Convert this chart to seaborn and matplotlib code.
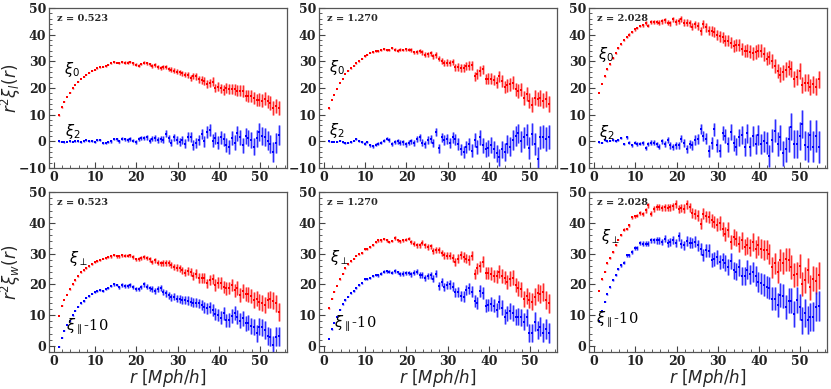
import numpy as np
import pandas as pd
import matplotlib
matplotlib.use("Agg")
import matplotlib.pyplot as plt
import seaborn as sns
from matplotlib.ticker import MultipleLocator

# ---------------- data ----------------
r = [1.2, 1.87, 2.53, 3.2, 3.87, 4.53, 5.2, 5.87, 6.53, 7.2,
     7.87, 8.53, 9.2, 9.87, 10.53, 11.2, 11.87, 12.53, 13.2, 13.87,
     14.53, 15.2, 15.87, 16.53, 17.2, 17.87, 18.53, 19.2, 19.87, 20.53,
     21.2, 21.87, 22.53, 23.2, 23.87, 24.53, 25.2, 25.87, 26.53, 27.2,
     27.87, 28.53, 29.2, 29.87, 30.53, 31.2, 31.87, 32.53, 33.2, 33.87,
     34.53, 35.2, 35.87, 36.53, 37.2, 37.87, 38.53, 39.2, 39.87, 40.53,
     41.2, 41.87, 42.53, 43.2, 43.87, 44.53, 45.2, 45.87, 46.53, 47.2,
     47.87, 48.53, 49.2, 49.87, 50.53, 51.2, 51.87, 52.53, 53.2, 53.87,
     54.53]

redshifts = ["0.523", "1.270", "2.028"]

# top row: monopole xi0 and quadrupole xi2
xi0_z1 = [9.8, 12.8, 14.9, 16.6, 18.3, 19.9, 21.1, 22.4, 23.4, 24.3,
          25.1, 25.8, 26.5, 26.9, 27.4, 27.8, 28.0, 28.3, 28.8, 29.3,
          29.9, 29.6, 29.3, 29.8, 29.6, 29.6, 29.7, 29.3, 28.8, 28.4,
          29.0, 29.5, 29.4, 28.9, 28.3, 28.6, 28.0, 27.5, 27.8, 27.9,
          27.3, 26.9, 26.5, 26.1, 25.9, 25.6, 25.1, 24.8, 23.9, 24.6,
          24.4, 23.3, 23.0, 22.6, 21.4, 21.9, 22.4, 20.1, 20.6, 20.0,
          19.3, 20.0, 19.7, 19.6, 19.5, 19.1, 19.0, 18.9, 17.1, 17.0,
          17.0, 16.4, 15.6, 15.6, 15.3, 16.0, 15.0, 14.3, 12.6, 13.4, 12.5]
xi0_z1_err = [0.1, 0.1, 0.1, 0.1, 0.1, 0.1, 0.1, 0.1, 0.15, 0.15,
              0.15, 0.2, 0.2, 0.2, 0.2, 0.25, 0.25, 0.25, 0.3, 0.3,
              0.3, 0.3, 0.35, 0.35, 0.4, 0.4, 0.4, 0.45, 0.45, 0.5,
              0.5, 0.55, 0.55, 0.6, 0.6, 0.65, 0.7, 0.7, 0.75, 0.8,
              0.8, 0.85, 0.9, 0.9, 1.0, 1.0, 1.1, 1.1, 1.2, 1.2,
              1.3, 1.3, 1.4, 1.4, 1.5, 1.5, 1.6, 1.6, 1.7, 1.7,
              1.8, 1.8, 1.9, 1.9, 2.0, 2.0, 2.0, 2.1, 2.1, 2.2,
              2.2, 2.3, 2.3, 2.4, 2.4, 2.5, 2.5, 2.6, 2.6, 2.7, 2.7]
xi2_z1 = [0.0, -0.2, -0.4, -0.2, 0.0, -0.1, 0.0, 0.1, -0.3, 0.0,
          0.4, 0.2, 0.2, -0.2, 0.6, 0.5, -0.6, -0.6, -0.3, 0.0,
          0.9, 0.8, 0.1, 1.0, 0.8, 0.6, 0.9, 0.3, -0.2, 0.8,
          1.2, 1.3, 1.5, 0.3, 1.0, 1.3, 0.6, 0.9, 0.7, 2.8,
          1.2, -0.5, 1.5, 0.4, -0.3, 0.5, -0.9, 1.8, 1.7, -1.5,
          -0.5, 0.5, 2.8, 0.0, 3.5, 4.3, 0.3, 1.2, -0.5, 1.5,
          0.8, -1.5, -2.0, 1.3, -0.5, 3.0, 1.5, -1.5, 2.0, 1.2,
          0.5, -2.0, 1.2, 3.5, 2.0, 1.5, 0.3, -1.0, -4.0, -0.5, 2.5]
xi2_z1_err = [0.15, 0.15, 0.15, 0.15, 0.2, 0.2, 0.2, 0.2, 0.25, 0.25,
              0.25, 0.3, 0.3, 0.3, 0.35, 0.35, 0.4, 0.4, 0.45, 0.45,
              0.5, 0.5, 0.55, 0.6, 0.6, 0.65, 0.7, 0.7, 0.75, 0.8,
              0.85, 0.9, 0.9, 1.0, 1.0, 1.1, 1.1, 1.2, 1.2, 1.3,
              1.3, 1.4, 1.4, 1.5, 1.5, 1.6, 1.7, 1.7, 1.8, 1.9,
              1.9, 2.0, 2.0, 2.1, 2.2, 2.2, 2.3, 2.3, 2.4, 2.5,
              2.5, 2.6, 2.6, 2.7, 2.8, 2.8, 2.9, 2.9, 3.0, 3.1,
              3.1, 3.2, 3.2, 3.3, 3.4, 3.4, 3.5, 3.5, 3.6, 3.7, 3.7]

xi0_z2 = [12.4, 15.5, 17.5, 19.6, 21.9, 23.4, 25.3, 26.5, 27.4, 28.4,
          29.3, 30.1, 31.1, 32.0, 32.6, 33.3, 33.6, 33.9, 34.0, 34.4,
          34.6, 34.4, 34.3, 35.0, 34.4, 34.0, 34.4, 34.3, 34.6, 34.4,
          34.3, 33.4, 33.6, 34.0, 33.4, 32.6, 32.7, 33.0, 31.9, 32.4,
          31.1, 30.3, 29.4, 29.6, 29.5, 29.8, 27.8, 28.0, 27.6, 27.4,
          28.4, 28.4, 28.5, 24.4, 25.3, 26.5, 27.0, 23.4, 23.6, 23.6,
          23.1, 22.1, 24.4, 22.8, 20.3, 21.0, 21.4, 22.1, 19.6, 18.9,
          19.4, 16.4, 17.8, 15.3, 13.8, 16.4, 15.9, 16.3, 15.3, 15.9, 13.9]
xi0_z2_err = [0.1, 0.1, 0.1, 0.1, 0.1, 0.15, 0.15, 0.15, 0.15, 0.2,
              0.2, 0.2, 0.25, 0.25, 0.25, 0.3, 0.3, 0.3, 0.35, 0.35,
              0.4, 0.4, 0.45, 0.45, 0.5, 0.5, 0.55, 0.55, 0.6, 0.6,
              0.65, 0.7, 0.7, 0.75, 0.8, 0.8, 0.85, 0.9, 0.9, 1.0,
              1.0, 1.1, 1.1, 1.2, 1.2, 1.3, 1.3, 1.4, 1.4, 1.5,
              1.5, 1.6, 1.6, 1.7, 1.7, 1.8, 1.8, 1.9, 1.9, 2.0,
              2.0, 2.1, 2.1, 2.2, 2.2, 2.3, 2.3, 2.4, 2.4, 2.5,
              2.5, 2.6, 2.6, 2.7, 2.7, 2.8, 2.8, 2.9, 2.9, 3.0, 3.0]
xi2_z2 = [0.0, -0.1, -0.2, -0.1, 0.2, -0.3, -0.6, -0.5, -0.3, 0.3,
          1.0, 0.2, -0.2, -0.8, -0.2, -1.5, -1.8, -1.2, -0.8, -0.5,
          0.2, 1.0, 0.5, -1.0, -0.3, 0.0, -0.5, -0.4, -1.0, -0.5,
          0.0, -0.5, 1.0, 1.5, -0.5, -1.0, 0.5, 0.8, -0.5, 3.5,
          -2.5, 1.5, 0.5, 1.0, -0.5, 1.5, 0.8, -1.0, -3.0, -4.0,
          -2.0, -1.0, -3.5, 0.5, -2.0, 1.5, -1.5, -3.0, -2.5, -1.5,
          -3.0, -4.5, -6.0, -3.0, -4.0, -1.0, -2.0, 0.5, 2.0, 3.0,
          0.0, 1.5, 2.5, -2.5, 2.8, -1.0, -6.5, 1.5, 1.8, 1.0, 1.5]
xi2_z2_err = [0.15, 0.15, 0.15, 0.2, 0.2, 0.2, 0.25, 0.25, 0.3, 0.3,
              0.3, 0.35, 0.35, 0.4, 0.4, 0.45, 0.5, 0.5, 0.55, 0.6,
              0.6, 0.65, 0.7, 0.7, 0.75, 0.8, 0.85, 0.9, 0.95, 1.0,
              1.0, 1.1, 1.1, 1.2, 1.3, 1.3, 1.4, 1.5, 1.5, 1.6,
              1.7, 1.7, 1.8, 1.9, 1.9, 2.0, 2.1, 2.1, 2.2, 2.3,
              2.3, 2.4, 2.5, 2.6, 2.6, 2.7, 2.8, 2.8, 2.9, 3.0,
              3.1, 3.1, 3.2, 3.3, 3.4, 3.4, 3.5, 3.6, 3.7, 3.7,
              3.8, 3.9, 4.0, 4.0, 4.1, 4.2, 4.3, 4.3, 4.4, 4.5, 4.5]

xi0_z3 = [18.1, 21.6, 24.4, 27.1, 29.0, 31.3, 33.1, 35.0, 36.4, 37.9,
          39.1, 40.1, 41.1, 42.0, 42.5, 43.3, 43.6, 44.4, 43.4, 44.8,
          44.9, 44.9, 44.6, 45.0, 45.5, 44.6, 44.4, 45.8, 44.8, 45.1,
          45.9, 44.6, 44.6, 44.4, 43.1, 43.9, 43.4, 41.5, 44.0, 42.8,
          41.5, 41.4, 40.9, 39.9, 39.4, 39.0, 37.8, 37.8, 37.1, 35.9,
          36.3, 36.1, 34.6, 34.0, 34.0, 33.6, 33.1, 33.6, 34.0, 34.0,
          32.8, 31.1, 31.5, 30.1, 28.4, 26.5, 25.1, 25.9, 26.9, 27.8,
          27.1, 23.4, 24.3, 26.5, 21.1, 22.1, 22.1, 20.5, 21.5, 20.6, 23.4]
xi0_z3_err = [0.1, 0.1, 0.15, 0.15, 0.2, 0.2, 0.25, 0.25, 0.3, 0.3,
              0.35, 0.4, 0.4, 0.45, 0.5, 0.5, 0.55, 0.6, 0.65, 0.7,
              0.7, 0.75, 0.8, 0.85, 0.9, 0.9, 0.95, 1.0, 1.0, 1.1,
              1.1, 1.2, 1.2, 1.3, 1.3, 1.4, 1.5, 1.5, 1.6, 1.7,
              1.7, 1.8, 1.9, 1.9, 2.0, 2.0, 2.1, 2.1, 2.2, 2.2,
              2.2, 2.3, 2.3, 2.3, 2.4, 2.4, 2.4, 2.5, 2.5, 2.5,
              2.6, 2.6, 2.6, 2.7, 2.7, 2.7, 2.8, 2.8, 2.8, 2.9,
              2.9, 2.9, 3.0, 3.0, 3.0, 3.1, 3.1, 3.1, 3.2, 3.2, 3.2]
xi2_z3 = [-0.3, -0.5, 0.5, 0.0, 0.3, 0.5, 0.2, 0.5, 1.2, -1.0,
          1.5, -0.5, -1.5, -0.5, -1.0, -0.8, -0.5, -2.5, -1.0, -0.5,
          -0.5, -1.0, -2.0, 0.0, -1.0, 0.5, -1.5, -2.0, -1.5, -1.5,
          1.0, -0.5, -3.0, -1.0, -1.5, 0.5, 1.0, 4.5, 2.0, 1.0,
          -3.5, -0.5, 4.5, -1.5, -3.5, 3.0, 2.0, -1.0, 3.5, -0.5,
          -2.0, 1.5, 2.5, -2.0, 3.0, -2.0, 2.0, -1.0, 2.5, -1.0,
          0.0, -0.5, -5.5, 0.5, 4.0, -1.0, 1.5, -4.5, -3.0, 1.0,
          5.5, -1.0, -1.0, 2.0, 6.5, -1.5, -2.0, 2.5, -2.0, 2.0, -2.0]
xi2_z3_err = [0.2, 0.2, 0.25, 0.25, 0.3, 0.3, 0.35, 0.35, 0.4, 0.45,
              0.5, 0.5, 0.55, 0.6, 0.65, 0.7, 0.75, 0.8, 0.85, 0.9,
              0.9, 0.95, 1.0, 1.05, 1.1, 1.15, 1.2, 1.2, 1.3, 1.35,
              1.4, 1.5, 1.5, 1.6, 1.7, 1.8, 1.8, 1.9, 2.0, 2.1,
              2.2, 2.3, 2.4, 2.4, 2.5, 2.6, 2.7, 2.8, 2.9, 3.0,
              3.1, 3.2, 3.3, 3.4, 3.5, 3.5, 3.6, 3.7, 3.8, 3.9,
              4.0, 4.1, 4.2, 4.3, 4.4, 4.5, 4.6, 4.7, 4.8, 4.9,
              5.0, 5.1, 5.2, 5.3, 5.4, 5.5, 5.6, 5.7, 5.8, 5.9, 6.0]

# bottom row: xi_perp and xi_parallel - 10
xiperp_z1 = [9.7, 13.1, 14.9, 16.6, 18.4, 20.0, 21.4, 22.7, 23.9, 24.6,
             25.3, 25.9, 26.6, 27.2, 27.6, 27.9, 28.4, 28.6, 28.9, 29.1,
             29.5, 29.1, 29.1, 29.5, 29.3, 29.3, 29.5, 28.9, 28.2, 28.2,
             28.6, 28.9, 28.6, 28.1, 27.3, 27.9, 27.0, 26.8, 27.0, 27.0,
             27.0, 26.2, 25.7, 25.4, 25.2, 24.6, 23.8, 24.3, 24.0, 22.7,
             23.5, 22.1, 22.1, 22.0, 20.3, 21.4, 21.7, 19.8, 20.6, 20.5,
             19.2, 18.7, 18.9, 19.8, 18.1, 18.9, 16.5, 17.9, 16.8, 16.8,
             16.2, 14.9, 15.4, 14.4, 14.0, 13.3, 14.9, 15.1, 14.7, 13.8, 11.1]
xiperp_z1_err = [0.1, 0.1, 0.1, 0.1, 0.1, 0.1, 0.15, 0.15, 0.15, 0.15,
                 0.2, 0.2, 0.2, 0.25, 0.25, 0.25, 0.3, 0.3, 0.3, 0.35,
                 0.35, 0.4, 0.4, 0.45, 0.45, 0.5, 0.5, 0.55, 0.55, 0.6,
                 0.6, 0.65, 0.7, 0.7, 0.75, 0.8, 0.8, 0.85, 0.9, 0.9,
                 0.95, 1.0, 1.0, 1.1, 1.1, 1.2, 1.2, 1.3, 1.3, 1.4,
                 1.4, 1.5, 1.5, 1.6, 1.6, 1.7, 1.7, 1.8, 1.8, 1.9,
                 1.9, 2.0, 2.0, 2.1, 2.1, 2.2, 2.2, 2.3, 2.3, 2.4,
                 2.4, 2.5, 2.5, 2.6, 2.6, 2.7, 2.7, 2.8, 2.8, 2.9, 2.9]
xipar_z1 = [-0.2, 2.7, 5.0, 6.8, 8.2, 10.0, 11.4, 12.7, 13.8, 14.6,
            15.7, 16.3, 17.0, 17.6, 17.9, 18.1, 17.9, 18.5, 18.9, 19.5,
            20.0, 19.8, 19.0, 19.8, 19.5, 19.5, 19.8, 19.2, 18.5, 18.5,
            19.2, 20.0, 19.2, 18.7, 18.5, 17.9, 18.4, 18.7, 17.6, 17.1,
            16.5, 15.8, 16.0, 15.4, 15.2, 14.9, 14.9, 14.7, 14.4, 14.0,
            14.1, 13.8, 13.3, 12.5, 12.2, 12.5, 11.7, 10.4, 10.0, 9.2,
            10.6, 8.4, 8.4, 9.8, 10.6, 9.3, 8.2, 9.0, 7.3, 7.6,
            6.5, 6.3, 4.1, 6.3, 6.0, 5.2, 3.2, 3.0, 0.3, 3.0, 3.2]
xipar_z1_err = [0.1, 0.1, 0.1, 0.1, 0.15, 0.15, 0.15, 0.15, 0.2, 0.2,
                0.2, 0.25, 0.25, 0.25, 0.3, 0.3, 0.35, 0.35, 0.4, 0.4,
                0.45, 0.45, 0.5, 0.5, 0.55, 0.55, 0.6, 0.65, 0.65, 0.7,
                0.7, 0.75, 0.8, 0.8, 0.85, 0.9, 0.95, 0.95, 1.0, 1.05,
                1.1, 1.1, 1.2, 1.2, 1.3, 1.3, 1.4, 1.4, 1.5, 1.5,
                1.6, 1.6, 1.7, 1.7, 1.8, 1.8, 1.9, 1.9, 2.0, 2.0,
                2.1, 2.1, 2.2, 2.2, 2.3, 2.3, 2.4, 2.4, 2.5, 2.5,
                2.6, 2.6, 2.7, 2.7, 2.8, 2.8, 2.9, 2.9, 3.0, 3.0, 3.1]

xiperp_z2 = [12.2, 15.4, 17.6, 19.5, 21.6, 23.5, 25.2, 26.6, 27.5, 28.4,
             29.3, 29.8, 30.2, 31.4, 31.6, 32.2, 32.9, 33.8, 34.3, 34.3,
             34.7, 34.3, 33.8, 34.1, 35.1, 34.3, 34.0, 34.3, 34.6, 34.9,
             33.8, 33.3, 32.7, 32.7, 33.5, 32.7, 32.2, 32.4, 30.8, 31.1,
             31.3, 30.2, 29.5, 29.3, 29.3, 28.6, 27.3, 28.4, 29.5, 28.9,
             28.4, 27.9, 29.4, 23.3, 25.2, 25.9, 27.3, 23.8, 23.8, 23.5,
             22.7, 22.7, 24.1, 22.7, 22.2, 20.8, 21.9, 22.2, 19.8, 18.7,
             18.4, 15.4, 16.2, 14.9, 14.4, 16.0, 17.3, 16.8, 17.6, 14.9, 13.8]
xiperp_z2_err = [0.1, 0.1, 0.1, 0.1, 0.1, 0.15, 0.15, 0.15, 0.15, 0.2,
                 0.2, 0.2, 0.25, 0.25, 0.25, 0.3, 0.3, 0.3, 0.35, 0.35,
                 0.4, 0.4, 0.45, 0.45, 0.5, 0.5, 0.55, 0.55, 0.6, 0.6,
                 0.65, 0.7, 0.7, 0.75, 0.8, 0.8, 0.85, 0.9, 0.9, 1.0,
                 1.0, 1.1, 1.1, 1.2, 1.2, 1.3, 1.3, 1.4, 1.4, 1.5,
                 1.5, 1.6, 1.6, 1.7, 1.7, 1.8, 1.8, 1.9, 1.9, 2.0,
                 2.0, 2.1, 2.1, 2.2, 2.2, 2.3, 2.3, 2.4, 2.4, 2.5,
                 2.5, 2.6, 2.6, 2.7, 2.7, 2.8, 2.8, 2.9, 2.9, 3.0, 3.0]
xipar_z2 = [2.2, 5.4, 7.6, 9.5, 11.7, 13.5, 14.9, 16.0, 17.1, 17.8,
            18.9, 19.8, 20.3, 21.6, 21.7, 22.2, 22.8, 23.0, 23.0, 23.5,
            24.1, 24.3, 24.1, 23.8, 24.4, 23.9, 23.5, 23.5, 23.8, 23.7,
            23.3, 23.8, 24.1, 23.0, 23.0, 22.2, 22.6, 22.9, 21.9, 23.5,
            19.5, 20.8, 19.2, 19.8, 20.0, 19.2, 17.4, 17.6, 16.2, 16.0,
            18.1, 18.7, 17.6, 14.6, 14.0, 17.9, 17.1, 13.0, 13.3, 13.6,
            13.1, 11.7, 14.4, 12.4, 9.5, 10.6, 11.4, 10.6, 9.5, 9.5,
            9.3, 7.9, 9.3, 4.3, 4.3, 7.9, 5.2, 6.3, 4.3, 5.4, 4.1]
xipar_z2_err = [0.1, 0.1, 0.1, 0.15, 0.15, 0.15, 0.2, 0.2, 0.2, 0.25,
                0.25, 0.25, 0.3, 0.3, 0.35, 0.35, 0.4, 0.4, 0.45, 0.45,
                0.5, 0.5, 0.55, 0.55, 0.6, 0.6, 0.65, 0.7, 0.7, 0.75,
                0.8, 0.8, 0.85, 0.9, 0.9, 1.0, 1.0, 1.1, 1.1, 1.2,
                1.2, 1.3, 1.3, 1.4, 1.4, 1.5, 1.5, 1.6, 1.6, 1.7,
                1.7, 1.8, 1.8, 1.9, 1.9, 2.0, 2.0, 2.1, 2.1, 2.2,
                2.2, 2.3, 2.3, 2.4, 2.4, 2.5, 2.5, 2.6, 2.6, 2.7,
                2.7, 2.8, 2.8, 2.9, 2.9, 3.0, 3.0, 3.1, 3.1, 3.2, 3.2]

xiperp_z3 = [17.9, 21.6, 24.1, 26.8, 28.6, 30.6, 32.7, 34.6, 36.0, 37.8,
             38.1, 39.2, 41.9, 42.1, 42.4, 43.2, 43.0, 44.1, 45.7, 43.0,
             44.6, 45.1, 45.1, 44.9, 45.1, 44.9, 45.1, 45.4, 46.2, 44.6,
             44.9, 44.6, 46.0, 45.1, 43.2, 42.8, 42.4, 39.7, 43.0, 42.1,
             41.9, 40.8, 40.3, 39.4, 40.0, 38.1, 36.5, 37.8, 33.8, 35.4,
             34.9, 33.3, 34.3, 32.2, 32.7, 32.0, 33.8, 31.6, 32.7, 31.6,
             31.1, 31.3, 29.8, 25.5, 26.8, 24.1, 27.9, 27.0, 28.1, 28.0,
             25.7, 23.0, 23.5, 26.1, 20.1, 21.4, 24.6, 19.0, 21.9, 21.2, 23.0]
xiperp_z3_err = [0.1, 0.15, 0.15, 0.2, 0.2, 0.25, 0.3, 0.3, 0.35, 0.4,
                 0.4, 0.45, 0.5, 0.55, 0.6, 0.65, 0.7, 0.75, 0.8, 0.85,
                 0.9, 0.95, 1.0, 1.0, 1.1, 1.1, 1.2, 1.2, 1.3, 1.3,
                 1.4, 1.4, 1.5, 1.5, 1.6, 1.6, 1.7, 1.8, 1.8, 1.9,
                 1.9, 2.0, 2.0, 2.1, 2.2, 2.2, 2.3, 2.4, 2.4, 2.5,
                 2.5, 2.6, 2.7, 2.7, 2.8, 2.9, 2.9, 3.0, 3.0, 3.1,
                 3.2, 3.2, 3.3, 3.3, 3.4, 3.5, 3.5, 3.6, 3.6, 3.7,
                 3.8, 3.8, 3.9, 3.9, 4.0, 4.1, 4.1, 4.2, 4.2, 4.3, 4.4]
xipar_z3 = [8.0, 11.3, 14.4, 16.8, 19.0, 21.4, 23.0, 24.9, 26.2, 27.0,
            29.5, 29.5, 30.6, 31.9, 31.9, 33.5, 33.3, 33.3, 33.3, 34.3,
            34.3, 34.3, 34.3, 33.8, 34.9, 33.5, 33.8, 34.3, 33.5, 35.6,
            33.3, 32.7, 34.1, 33.6, 33.5, 33.9, 32.7, 31.6, 29.5, 31.1,
            30.9, 27.9, 28.4, 28.9, 27.3, 27.8, 27.0, 25.7, 27.6, 24.6,
            24.1, 25.5, 22.7, 22.7, 24.8, 23.3, 24.1, 22.7, 20.8, 20.3,
            19.8, 19.2, 18.9, 15.4, 15.4, 13.3, 16.5, 16.2, 12.7, 14.7,
            14.7, 10.4, 14.9, 12.7, 8.4, 10.6, 8.4, 9.5, 9.5, 12.7, 13.0]
xipar_z3_err = [0.15, 0.15, 0.2, 0.2, 0.25, 0.3, 0.3, 0.35, 0.4, 0.45,
                0.45, 0.5, 0.55, 0.6, 0.65, 0.7, 0.75, 0.8, 0.85, 0.9,
                0.95, 1.0, 1.05, 1.1, 1.15, 1.2, 1.25, 1.3, 1.35, 1.4,
                1.5, 1.5, 1.6, 1.7, 1.7, 1.8, 1.9, 1.9, 2.0, 2.1,
                2.1, 2.2, 2.3, 2.3, 2.4, 2.5, 2.5, 2.6, 2.7, 2.7,
                2.8, 2.9, 2.9, 3.0, 3.1, 3.1, 3.2, 3.3, 3.3, 3.4,
                3.5, 3.5, 3.6, 3.7, 3.7, 3.8, 3.9, 3.9, 4.0, 4.1,
                4.1, 4.2, 4.3, 4.3, 4.4, 4.5, 4.5, 4.6, 4.7, 4.7, 4.8]

# ---------------- styling ----------------
sns.set_theme(style="white")
plt.rcParams["font.family"] = ["DejaVu Serif", "DejaVu Sans"]
plt.rcParams["mathtext.fontset"] = "dejavusans"

RED, RED_L = "#ff0000", "#ff9a9a"
BLUE, BLUE_L = "#0000ff", "#9a9aff"

fig = plt.figure(figsize=(8.31, 3.89), dpi=100)
col_left = [0.059, 0.384, 0.709]
row_bottom = [0.568, 0.095]
W, H = 0.286, 0.411

panels = [
    (0, 0, xi0_z1, xi0_z1_err, xi2_z1, xi2_z1_err, r"$\xi_0$", (4.3, 27.0), r"$\xi_2$", (4.5, 3.8)),
    (0, 1, xi0_z2, xi0_z2_err, xi2_z2, xi2_z2_err, r"$\xi_0$", (3.1, 27.7), r"$\xi_2$", (3.1, 4.0)),
    (0, 2, xi0_z3, xi0_z3_err, xi2_z3, xi2_z3_err, r"$\xi_0$", (3.0, 32.7), r"$\xi_2$", (3.0, 3.5)),
    (1, 0, xiperp_z1, xiperp_z1_err, xipar_z1, xipar_z1_err, r"$\xi_{\perp}$", (6.0, 28.5), r"$\xi_{\parallel}$-10", (8.0, 6.3)),
    (1, 1, xiperp_z2, xiperp_z2_err, xipar_z2, xipar_z2_err, r"$\xi_{\perp}$", (3.7, 28.7), r"$\xi_{\parallel}$-10", (7.5, 7.1)),
    (1, 2, xiperp_z3, xiperp_z3_err, xipar_z3, xipar_z3_err, r"$\xi_{\perp}$", (3.9, 35.7), r"$\xi_{\parallel}$-10", (5.7, 8.4)),
]

for (row, col, ya, ea, yb, eb, la, pa, lb, pb) in panels:
    ax = fig.add_axes([col_left[col], row_bottom[row], W, H])
    for y, e, c, cl in ((ya, ea, RED, RED_L), (yb, eb, BLUE, BLUE_L)):
        df = pd.DataFrame({"r": r, "v": y, "e": e})
        ax.errorbar(df["r"], df["v"], yerr=df["e"], fmt="none", ecolor=cl,
                    elinewidth=1.8, capsize=0, zorder=1)
        ax.errorbar(df["r"], df["v"], yerr=df["e"], fmt="none", ecolor=c,
                    elinewidth=0.5, capsize=0, zorder=2)
        sns.scatterplot(data=df, x="r", y="v", ax=ax, color=c, marker="s",
                        s=2.5, linewidth=0, zorder=3, legend=False)
    ax.text(pa[0], pa[1], la, color="black", fontsize=10.5, ha="center",
            va="center", zorder=5)
    ax.text(pb[0], pb[1], lb, color="black", fontsize=10.5, ha="center",
            va="center", zorder=5)
    ax.text(0.035, 0.965, "z = " + redshifts[col], transform=ax.transAxes,
            fontsize=7, fontweight="bold", ha="left", va="top")

    ax.set_xlim(-1.2, 56.5)
    if row == 0:
        ax.set_ylim(-10, 50)
    else:
        ax.set_ylim(-2, 50)
    ax.xaxis.set_major_locator(MultipleLocator(10))
    ax.xaxis.set_minor_locator(MultipleLocator(2))
    ax.yaxis.set_major_locator(MultipleLocator(10))
    ax.yaxis.set_minor_locator(MultipleLocator(2))
    ax.tick_params(which="both", direction="in", top=False, right=False,
                   bottom=True, left=True, colors="#444444", labelcolor="#222222",
                   labelsize=9, pad=2)
    ax.tick_params(which="major", length=4, width=0.8)
    ax.tick_params(which="minor", length=2, width=0.6)
    for lab in ax.get_xticklabels() + ax.get_yticklabels():
        lab.set_fontweight("bold")
    for sp in ax.spines.values():
        sp.set_color("#555555")
        sp.set_linewidth(0.9)
    ax.set_xlabel("")
    ax.set_ylabel("")
    if row == 1:
        ax.set_xlabel(r"$r\ [Mph/h]$", fontsize=12)
        ax.xaxis.set_label_coords(0.5, -0.095)
    if col == 0:
        ax.set_ylabel(r"$r^2\xi_l(r)$" if row == 0 else r"$r^2\xi_w(r)$",
                      fontsize=12)
        ax.yaxis.set_label_coords(-0.11, 0.5)

fig.savefig("out.png", dpi=100)
